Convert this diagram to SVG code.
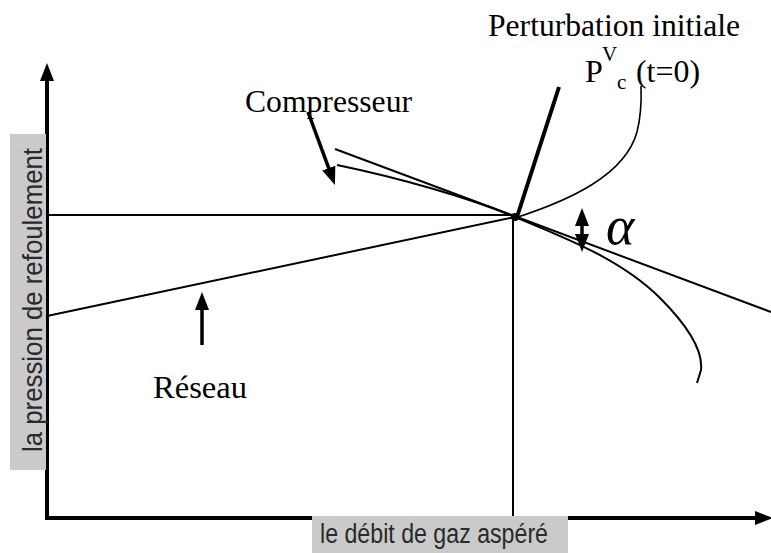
<svg xmlns="http://www.w3.org/2000/svg" width="771" height="553" viewBox="0 0 771 553">
<style>
.ln{fill:none;stroke:#000;stroke-width:2}
.thin{fill:none;stroke:#000;stroke-width:1.6}
.ax{fill:none;stroke:#000;stroke-width:4}
.arr{fill:none;stroke:#000;stroke-width:3.5}
.lbl{font-family:"Liberation Sans",Arial,sans-serif;font-size:27px;fill:#2a2a2a}
.ser{font-family:"Liberation Serif","Times New Roman",serif;font-size:32px;fill:#000}
.box{fill:#cacaca}
</style>
<defs>
<marker id="ah" viewBox="0 0 18 14" refX="8" refY="7" markerWidth="18" markerHeight="14" markerUnits="userSpaceOnUse" orient="auto-start-reverse">
<path d="M0,0 L18,7 L0,14 z" fill="#000"/>
</marker>
</defs>
<rect width="771" height="553" fill="#fff"/>
<g id="axes">
<line class="ax" x1="47" y1="519" x2="47" y2="73" marker-end="url(#ah)"/>
<line class="ax" x1="45" y1="518" x2="763" y2="518" marker-end="url(#ah)"/>
</g>
<g id="reference-lines">
<line class="ln" x1="47" y1="215" x2="515" y2="215"/>
<line class="ln" x1="513" y1="217" x2="513" y2="518"/>
</g>
<g id="reseau-curve">
<line class="ln" x1="47" y1="316" x2="515" y2="217"/>
</g>
<g id="tangent">
<line class="ln" x1="335" y1="149" x2="771" y2="312"/>
</g>
<g id="compresseur-curve">
<path class="ln" d="M337,165 C400,178 470,198 515,217 C560,236 620,258 660,298 C690,328 703,352 701,370 L697,383"/>
</g>
<g id="perturbation-curve">
<path class="thin" d="M518,217 C570,200 625,175 637,132 Q642,112 641,86"/>
</g>
<g id="connectors">
<line x1="517" y1="217" x2="559" y2="87" stroke="#000" stroke-width="4"/>
<line class="arr" x1="308" y1="112" x2="331.5" y2="175.6" marker-end="url(#ah)"/>
<line class="arr" x1="202" y1="345" x2="202" y2="302" marker-end="url(#ah)"/>
<line class="arr" x1="582" y1="218" x2="582" y2="242" marker-start="url(#ah)" marker-end="url(#ah)"/>
</g>
<g id="intersection">
<circle cx="515" cy="217" r="4" fill="#000"/>
</g>
<g id="label-y">
<rect class="box" x="10" y="134" width="36" height="336"/>
<text class="lbl" transform="translate(42,452) rotate(-90)" textLength="304" lengthAdjust="spacingAndGlyphs">la pression de refoulement</text>
</g>
<g id="label-x">
<rect class="box" x="312" y="516" width="256" height="37"/>
<text class="lbl" x="320" y="543" textLength="228" lengthAdjust="spacingAndGlyphs">le débit de gaz aspéré</text>
</g>
<g id="label-compresseur">
<text class="ser" x="245" y="112" textLength="167" lengthAdjust="spacingAndGlyphs">Compresseur</text>
</g>
<g id="label-perturbation">
<text class="ser" x="488" y="36" textLength="252" lengthAdjust="spacingAndGlyphs">Perturbation initiale</text>
<text class="ser" x="585" y="82">P</text>
<text class="ser" x="602" y="61" style="font-size:21px">V</text>
<text class="ser" x="617" y="89" style="font-size:21px">c</text>
<text class="ser" x="636" y="82" textLength="64" lengthAdjust="spacingAndGlyphs">(t=0)</text>
</g>
<g id="label-reseau">
<text class="ser" x="153" y="398" textLength="94" lengthAdjust="spacingAndGlyphs">Réseau</text>
</g>
<g id="label-alpha">
<text x="606" y="244" style="font-family:'Liberation Serif','Times New Roman',serif;font-size:54px;font-style:italic;fill:#000">α</text>
</g>
</svg>
